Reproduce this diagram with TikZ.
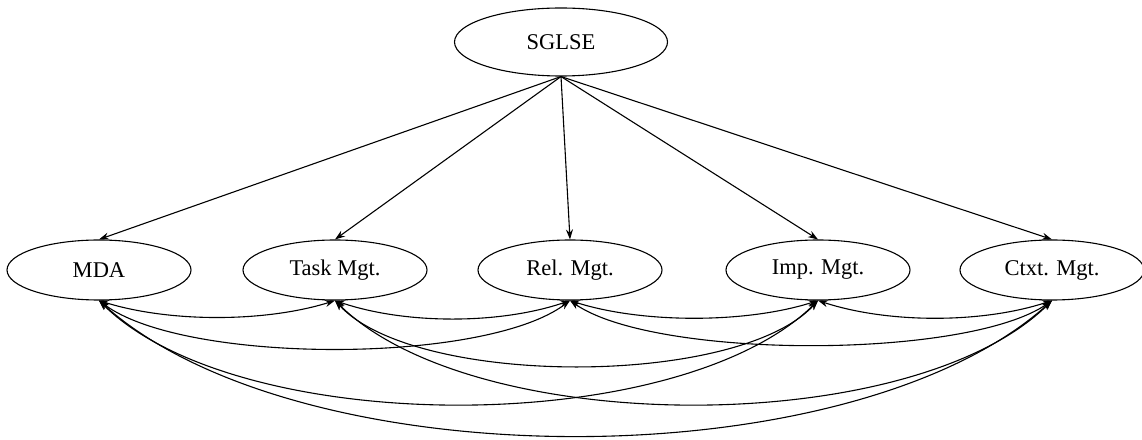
\documentclass[tikz,border=0pt]{standalone}
\usepackage{fontspec}
\setmainfont{Liberation Serif}
\usetikzlibrary{shapes.geometric,arrows.meta}
\begin{document}
\begin{tikzpicture}[x=1pt,y=1pt,
  ell/.style={draw,ellipse,line width=1.1pt,inner sep=0pt,minimum width=184pt,minimum height=60pt,font=\fontsize{22.5}{26}\selectfont},
  topedge/.style={line width=1.1pt,-{Stealth[length=10pt,width=7pt]}},
  botedge/.style={line width=1.1pt,{Stealth[length=10pt,width=7pt]}-{Stealth[length=10pt,width=7pt]}}]
\useasboundingbox (0,0) rectangle (1142,439);
\node[ell,minimum width=213pt,minimum height=68pt] (s) at (561,397) {SGLSE};
\node[ell] (mda) at (99,169) {MDA};
\node[ell] (task) at (335,169) {Task Mgt.};
\node[ell] (rel) at (570,169) {Rel. Mgt.};
\node[ell] (imp) at (818,169) {Imp. Mgt.};
\node[ell] (ctx) at (1052,169) {Ctxt. Mgt.};
\foreach \t in {mda,task,rel,imp,ctx}
  \draw[topedge] (s.south) -- (\t.north);
% adjacent
\draw[botedge] (mda.south) .. controls +(70,-22) and +(-70,-22) .. (task.south);
\draw[botedge] (task.south) .. controls +(70,-24) and +(-70,-24) .. (rel.south);
\draw[botedge] (rel.south) .. controls +(72,-23) and +(-72,-23) .. (imp.south);
\draw[botedge] (imp.south) .. controls +(70,-23) and +(-70,-23) .. (ctx.south);
% distance 2
\draw[botedge] (mda.south) .. controls +(85,-64) and +(-85,-64) .. (rel.south);
\draw[botedge] (task.south) .. controls +(80,-87) and +(-80,-87) .. (imp.south);
\draw[botedge] (rel.south) .. controls +(85,-59) and +(-85,-59) .. (ctx.south);
% distance 3
\draw[botedge] (mda.south) .. controls +(140,-138) and +(-140,-138) .. (imp.south);
\draw[botedge] (task.south) .. controls +(140,-138) and +(-140,-138) .. (ctx.south);
% distance 4
\draw[botedge] (mda.south) .. controls +(200,-180) and +(-200,-180) .. (ctx.south);
\end{tikzpicture}
\end{document}
